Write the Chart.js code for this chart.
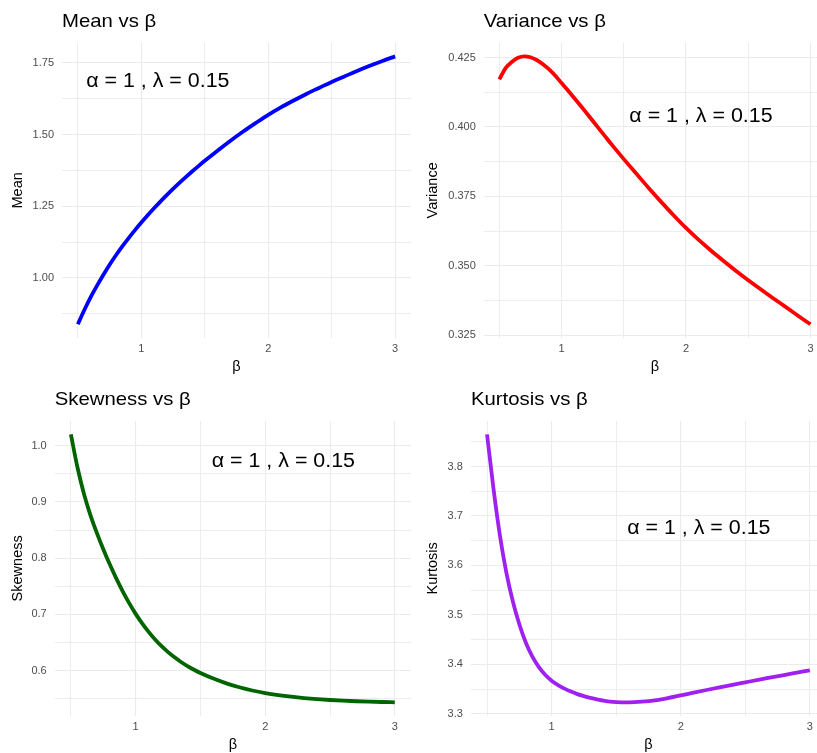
<!DOCTYPE html>
<html>
<head>
<meta charset="utf-8">
<script src="https://cdn.jsdelivr.net/npm/chart.js@4.4.1/dist/chart.umd.min.js"></script>
<style>
  html, body { margin: 0; padding: 0; background: #fff; width: 817px; height: 753px; overflow: hidden; }
  canvas { position: absolute; }
</style>
</head>
<body>
<canvas id="meanChart" width="415" height="378" style="left:0;top:0;width:415px;height:378px"></canvas>
<canvas id="varChart" width="415" height="378" style="left:415px;top:0;width:415px;height:378px"></canvas>
<canvas id="skewChart" width="415" height="378" style="left:0;top:378px;width:415px;height:378px"></canvas>
<canvas id="kurtChart" width="415" height="378" style="left:415px;top:378px;width:415px;height:378px"></canvas>
<script>
// values
const beta = [0.5, 0.55, 0.6, 0.65, 0.7, 0.75, 0.8, 0.85, 0.9, 0.95, 1.0,
  1.05, 1.1, 1.15, 1.2, 1.25, 1.3, 1.35, 1.4, 1.45, 1.5,
  1.6, 1.7, 1.8, 1.9, 2.0, 2.1, 2.2, 2.3, 2.4, 2.5, 2.6, 2.7, 2.8, 2.9, 3.0];

const meanVals = [0.838, 0.887, 0.932, 0.972, 1.010, 1.046, 1.079, 1.110, 1.139, 1.1667, 1.193,
  1.2184, 1.2428, 1.2662, 1.2886, 1.3103, 1.3313, 1.3515, 1.3711, 1.3901, 1.4085,
  1.444, 1.478, 1.510, 1.540, 1.569, 1.595, 1.619, 1.642, 1.663, 1.684, 1.703, 1.722, 1.740, 1.757, 1.773];

const varVals = [0.4171, 0.4212, 0.4234, 0.4249, 0.4254, 0.4251, 0.4241, 0.4226, 0.4207, 0.4184, 0.4158,
  0.4132, 0.4105, 0.4078, 0.4050, 0.4022, 0.3994, 0.3966, 0.3938, 0.3911, 0.3884,
  0.3832, 0.3780, 0.3730, 0.3682, 0.3636, 0.3594, 0.3555, 0.3518, 0.3482, 0.3448, 0.3415, 0.3383, 0.3352, 0.3320, 0.3289];

const skewVals = [1.020, 0.962, 0.915, 0.877, 0.845, 0.816, 0.789, 0.764, 0.741, 0.720, 0.701,
  0.684, 0.669, 0.6555, 0.6435, 0.633, 0.6237, 0.6155, 0.6082, 0.6017, 0.596,
  0.586, 0.5775, 0.5705, 0.5648, 0.5602, 0.5566, 0.5537, 0.5513, 0.5494, 0.5479, 0.5467, 0.5457, 0.5449, 0.5443, 0.5438];

const kurtVals = [3.865, 3.755, 3.660, 3.585, 3.527, 3.481, 3.444, 3.416, 3.395, 3.379, 3.367,
  3.358, 3.3508, 3.3448, 3.3398, 3.3358, 3.3323, 3.3293, 3.3265, 3.3247, 3.3236,
  3.3232, 3.3245, 3.3272, 3.3318, 3.3372, 3.3427, 3.3481, 3.3534, 3.3586, 3.3636, 3.3686, 3.3735, 3.3784, 3.3832, 3.388];

const xTicks = [1, 2, 3];
const xTickLabels = ["1", "2", "3"];
const meanTicks = [1.00, 1.25, 1.50, 1.75];
const meanTickLabels = ["1.00", "1.25", "1.50", "1.75"];
const varTicks = [0.325, 0.350, 0.375, 0.400, 0.425];
const varTickLabels = ["0.325", "0.350", "0.375", "0.400", "0.425"];
const skewTicks = [0.6, 0.7, 0.8, 0.9, 1.0];
const skewTickLabels = ["0.6", "0.7", "0.8", "0.9", "1.0"];
const kurtTicks = [3.3, 3.4, 3.5, 3.6, 3.7, 3.8];
const kurtTickLabels = ["3.3", "3.4", "3.5", "3.6", "3.7", "3.8"];

const annotText = "α = 1 , λ = 0.15";

const FONT = '"Liberation Sans", Arial, Helvetica, sans-serif';
const GRID = "#ebebeb";

// ggplot style: 5% expansion, minor breaks halfway between the major ones
function expand(lo, hi) {
  const pad = (hi - lo) * 0.05;
  return [lo - pad, hi + pad];
}
function withMinor(major, lo, hi) {
  const step = major[1] - major[0];
  const all = [];
  const start = major[0] - step / 2;
  for (let i = 0; i <= major.length * 2; i++) {
    const v = +(start + i * step / 2).toFixed(6);
    if (v >= lo && v <= hi) all.push(v);
  }
  return all;
}
function labelFor(v, major, labels) {
  const i = major.findIndex(m => Math.abs(m - v) < 1e-9);
  return i < 0 ? "" : labels[i];
}

const panelText = {
  id: "panelText",
  afterDraw(chart, args, opts) {
    const ctx = chart.ctx;
    const area = chart.chartArea;
    ctx.save();
    ctx.fillStyle = "#000";
    ctx.font = "19px " + FONT;
    ctx.textBaseline = "alphabetic";
    ctx.textAlign = "left";
    ctx.translate(area.left, 27);
    ctx.scale(1.07, 1);
    ctx.fillText(opts.title, 0, 0);
    ctx.restore();

    const px = chart.scales.x.getPixelForValue(opts.annot[0]);
    const py = chart.scales.y.getPixelForValue(opts.annot[1]);
    ctx.save();
    ctx.fillStyle = "#000";
    ctx.font = "20px " + FONT;
    ctx.textBaseline = "middle";
    ctx.textAlign = "center";
    ctx.translate(px, py);
    ctx.scale(1.07, 1);
    ctx.fillText(annotText, 0, 0);
    ctx.restore();
  }
};

function makePanel(id, vals, color, yMajor, yLabels, yTitle, title, annot, leftW) {
  const [yMin, yMax] = expand(Math.min(...vals), Math.max(...vals));
  const [xMin, xMax] = expand(beta[0], beta[beta.length - 1]);
  const yGrid = withMinor(yMajor, yMin, yMax);
  const xGrid = withMinor(xTicks, xMin, xMax);

  new Chart(document.getElementById(id).getContext("2d"), {
    type: "line",
    data: {
      datasets: [{
        data: beta.map((b, i) => ({ x: b, y: vals[i] })),
        borderColor: color,
        borderWidth: 3.8,
        pointRadius: 0,
        cubicInterpolationMode: "monotone",
        fill: false
      }]
    },
    options: {
      responsive: false,
      animation: false,
      events: [],
      layout: { padding: { left: 0, right: 4, top: 43, bottom: 4 } },
      plugins: {
        legend: { display: false },
        tooltip: { enabled: false },
        panelText: { title: title, annot: annot }
      },
      scales: {
        x: {
          type: "linear",
          min: xMin,
          max: xMax,
          afterBuildTicks: s => { s.ticks = xGrid.map(v => ({ value: v })); },
          afterFit: s => { s.height = 36.3; },
          ticks: {
            autoSkip: false,
            maxRotation: 0,
            padding: 5,
            color: "#4d4d4d",
            font: { family: FONT, size: 11 },
            callback: v => labelFor(v, xTicks, xTickLabels)
          },
          grid: {
            color: GRID,
            drawTicks: false,
            lineWidth: c => (labelFor(c.tick.value, xTicks, xTickLabels) ? 1.1 : 0.9)
          },
          border: { display: false },
          title: {
            display: true,
            text: "β",
            color: "#000",
            font: { family: FONT, size: 14.5, lineHeight: 1 },
            padding: { top: 0, bottom: 0 }
          }
        },
        y: {
          min: yMin,
          max: yMax,
          afterBuildTicks: s => { s.ticks = yGrid.map(v => ({ value: v })); },
          afterFit: s => { s.width = leftW; },
          ticks: {
            autoSkip: false,
            padding: 8,
            color: "#4d4d4d",
            font: { family: FONT, size: 11 },
            callback: v => labelFor(v, yMajor, yLabels)
          },
          grid: {
            color: GRID,
            drawTicks: false,
            lineWidth: c => (labelFor(c.tick.value, yMajor, yLabels) ? 1.1 : 0.9)
          },
          border: { display: false },
          title: {
            display: true,
            text: yTitle,
            color: "#000",
            font: { family: FONT, size: 14.5, lineHeight: 1 },
            padding: { top: 11, bottom: 0 }
          }
        }
      }
    },
    plugins: [panelText]
  });
}

makePanel("meanChart", meanVals, "#0000ff", meanTicks, meanTickLabels, "Mean", "Mean vs β", [1.13, 1.687], 62);
makePanel("varChart", varVals, "#ff0000", varTicks, varTickLabels, "Variance", "Variance vs β", [2.12, 0.4037], 68.8);
makePanel("skewChart", skewVals, "#006400", skewTicks, skewTickLabels, "Skewness", "Skewness vs β", [2.14, 0.971], 54.7);
makePanel("kurtChart", kurtVals, "#a020f0", kurtTicks, kurtTickLabels, "Kurtosis", "Kurtosis vs β", [2.14, 3.675], 55.9);
</script>
</body>
</html>
